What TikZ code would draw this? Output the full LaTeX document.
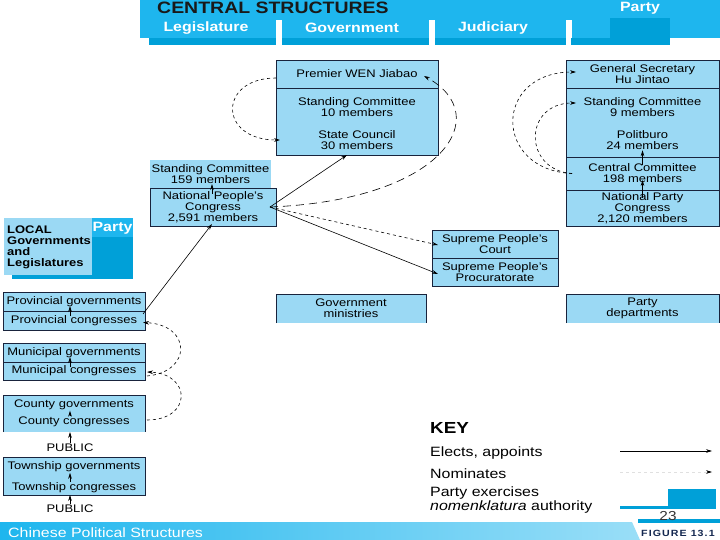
\documentclass[tikz,border=0pt]{standalone}
\usepackage{fontspec}
\setmainfont{Liberation Sans}[FakeStretch=1.18]
\usetikzlibrary{arrows.meta,calc}
\definecolor{bannerblue}{RGB}{30,182,238}
\definecolor{tabblue}{RGB}{0,160,216}
\definecolor{boxblue}{RGB}{155,217,244}
\definecolor{framecol}{RGB}{25,35,60}
\definecolor{figurenavy}{RGB}{20,40,80}

\begin{document}
\begin{tikzpicture}[x=1pt,y=-1pt,
    panel/.style={draw=framecol,line width=0.8pt,fill=boxblue,inner sep=0pt,outer sep=0pt,align=center,font=\boxfontsize},
    boxtext/.style={inner sep=0.5pt,align=center,font=\boxfontsize},
    tablabel/.style={text=white,inner sep=0pt,font=\tabfontsize\bfseries},
    keytext/.style={anchor=west,inner sep=0pt,align=left,font=\keyfontsize},
    elects/.style={draw=black,line width=0.6pt,-{Stealth[length=6pt,width=3.6pt]}},
    nominates/.style={elects,dashed}]
    \pgfmathsetmacro{\govx}{357}
    \pgfmathsetmacro{\partyx}{642.5}
    \pgfmathsetmacro{\localx}{74}
    \providecommand{\boxfontsize}{\fontsize{11}{11}\selectfont}
    \providecommand{\tabfontsize}{\fontsize{13.5}{14}\selectfont}
    \providecommand{\titlefontsize}{\fontsize{16.5}{18}\selectfont}
    \providecommand{\keyfontsize}{\fontsize{13.5}{14}\selectfont}
    \providecommand{\keytitlesize}{\fontsize{16}{18}\selectfont}
    \providecommand{\figfontsize}{\fontsize{9}{10}\selectfont\addfontfeature{LetterSpace=12}}
    \useasboundingbox (0,0) rectangle (720,540);
    % header tabs
    \fill[bannerblue] (140,0) rectangle (720,38);
    \foreach \xa/\xb in {149/276,282/429,435/566,571/670}
        \fill[tabblue] (\xa,38) rectangle (\xb,45);
    \foreach \xa in {276,429,566}
        \fill[white] (\xa,20) rectangle ++(6,18);
    \fill[tabblue] (610,18) rectangle (670,45);
    \node[anchor=west,inner sep=0pt,text=black!90,font=\titlefontsize\bfseries] (central) at (157,7.5) {CENTRAL STRUCTURES};
    \node[tablabel] (legislature) at (206,28) {Legislature};
    \node[tablabel] (government) at (352,28) {Government};
    \node[tablabel] (judiciary) at (493,28) {Judiciary};
    \node[tablabel] (partytab) at (640,8) {Party};
    % government
    \node[panel,minimum width=162,minimum height=28] (premier) at (\govx,74) {Premier WEN Jiabao};
    \node[panel,minimum width=162,minimum height=67] (govbody) at (\govx,121.5) {};
    \node[boxtext] (govsc) at (\govx,107) {Standing Committee\\10 members};
    \node[boxtext] (statecouncil) at (\govx,140) {State Council\\30 members};
    % party
    \node[panel,minimum width=153,minimum height=28] (gensec) at (\partyx,74) {General Secretary\\Hu Jintao};
    \node[panel,minimum width=153,minimum height=69] (partybody) at (\partyx,122.5) {};
    \node[boxtext] (partysc) at (\partyx,107) {Standing Committee\\9 members};
    \node[boxtext] (politburo) at (\partyx,140) {Politburo\\24 members};
    \node[panel,minimum width=153,minimum height=33] (centralcomm) at (\partyx,173.5) {Central Committee\\198 members};
    \node[panel,minimum width=153,minimum height=36] (partycongress) at (\partyx,208) {National Party\\Congress\\2,120 members};
    % legislature
    \node[panel,draw=none,minimum width=121,minimum height=28] (npcsc) at (210.5,174) {Standing Committee\\159 members};
    \node[panel,minimum width=126,minimum height=38] (npc) at (213,207) {National People's\\Congress\\2,591 members};
    % judiciary
    \node[panel,minimum width=126,minimum height=28] (court) at (495,244) {Supreme People's\\Court};
    \node[panel,minimum width=126,minimum height=28] (procuratorate) at (495,272) {Supreme People's\\Procuratorate};
    % ministries and departments, open at the bottom
    \node[panel,draw=none,minimum width=150,minimum height=29] (ministries) at (351,308.5) {Government\\ministries};
    \draw[framecol,line width=0.8pt] (ministries.south west) |- (ministries.north east) -- (ministries.south east);
    \node[panel,draw=none,minimum width=153,minimum height=29] (partydepts) at (\partyx,308.5) {Party\\departments};
    \draw[framecol,line width=0.8pt] (partydepts.south west) |- (partydepts.north east) -- (partydepts.south east);
    % local header
    \fill[boxblue] (4,218) rectangle (92,275);
    \fill[bannerblue] (92,218) rectangle (133,275);
    \fill[tabblue] (92,237) rectangle (133,279);
    \fill[tabblue] (12,275) rectangle (133,279);
    \node[anchor=west,inner sep=0pt,align=left,font=\boxfontsize\bfseries] (localhdr) at (7,247.5) {LOCAL\\Governments\\and\\Legislatures};
    \node[tablabel] (partylocal) at (112.5,228) {Party};
    % local levels
    \node[panel,minimum width=142,minimum height=19] (provgov) at (\localx,301.5) {Provincial governments};
    \node[panel,minimum width=142,minimum height=19] (provcong) at (\localx,320.5) {Provincial congresses};
    \node[panel,minimum width=142,minimum height=19] (munigov) at (\localx,352.5) {Municipal governments};
    \node[panel,minimum width=142,minimum height=18] (municong) at (\localx,371) {Municipal congresses};
    \node[panel,draw=none,minimum width=142,minimum height=37] (countybox) at (\localx,413.5) {};
    \draw[framecol,line width=0.8pt] (countybox.south west) |- (countybox.north east) -- (countybox.south east);
    \node[boxtext] (countygov) at (\localx,405) {County governments};
    \node[boxtext] (countycong) at (\localx,422) {County congresses};
    \node[panel,minimum width=142,minimum height=38] (townbox) at (\localx,476) {};
    \node[boxtext] (towngov) at (\localx,467) {Township governments};
    \node[boxtext] (towncong) at (\localx,488) {Township congresses};
    \node[boxtext] (public1) at (70,448) {PUBLIC};
    \node[boxtext] (public2) at (70,509) {PUBLIC};
    % small upward arrows
    \draw[elects] ($(provcong.north)+(-4,5)$) -- ($(provgov.south)+(-4,-5)$);
    \draw[elects] ($(municong.north)+(-4,5)$) -- ($(munigov.south)+(-4,-5)$);
    \draw[elects] ([xshift=-4pt]countycong.north) -- ([xshift=-4pt]countygov.south);
    \draw[elects] ([xshift=-4pt]towncong.north) -- ([xshift=-4pt]towngov.south);
    \draw[elects] (public1.north) -- (public1.north |- countybox.south);
    \draw[elects] (public2.north) -- (public2.north |- townbox.south);
    \draw[elects] ($(npc.north)+(-1,6)$) -- ($(npcsc.south)+(1.5,-4)$);
    \draw[elects] ($(centralcomm.north)+(0,8)$) -- (politburo.south);
    \draw[elects] ($(partycongress.north)+(0,8)$) -- ($(partycongress.north)+(0,-10)$);
    % local connectors
    \draw[elects] ($(provcong.north east)+(-2,3)$) -- ($(npc.south)+(-1,-2)$);
    \draw[nominates] ($(municong.east)+(2,5)$) .. controls (192,372) and (192,325) .. ($(provcong.east)+(-2,2)$);
    \coordinate (countyout) at (countybox.east |- countycong);
    \draw[nominates] ($(countyout)+(2,-2)$) .. controls (192,420) and (192,374) .. ($(municong.east)+(2,1)$);
    % central connectors
    \coordinate (npcout) at ($(npc.east)+(-6,0)$);
    \draw[elects] (npcout) -- ($(govbody.south)+(-10,0)$);
    \draw[nominates] (npcout) -- ($(court.west)+(6,1)$);
    \draw[elects] (npcout) -- ($(procuratorate.west)+(6,2)$);
    \draw[nominates,dash pattern=on 8pt off 5pt] (npcout) .. controls (445,200) and (495,115) .. ($(premier.east)+(-14,2)$);
    \coordinate (scin) at (govbody.west |- statecouncil);
    \draw[nominates] ($(premier.west)+(0,4)$) .. controls (218,78) and (218,140) .. ($(scin)+(4,0)$);
    \coordinate (ccin) at ($(centralcomm.west)+(6,0)$);
    \coordinate (partyscin) at (partybody.west |- partysc);
    \draw[nominates] (ccin) .. controls (493,170) and (493,72) .. ($(gensec.west)+(10,-2)$);
    \draw[nominates] (ccin) .. controls (523,170) and (523,103) .. ($(partyscin)+(10,-4)$);
    % key
    \node[anchor=west,inner sep=0pt,font=\keytitlesize\bfseries] (keytitle) at (430,428) {KEY};
    \node[keytext] (keyelects) at (430,453) {Elects, appoints};
    \node[keytext] (keynominates) at (430,474) {Nominates};
    \node[keytext] (keyparty) at (430,500) {Party exercises\\\textit{nomenklatura} authority};
    \coordinate (keyelecta) at (620,451);
    \coordinate (keyelectb) at (712,451);
    \draw[elects] (keyelecta) -- (keyelectb);
    \coordinate (keynoma) at (620,472);
    \coordinate (keynomb) at (712,472);
    \draw[nominates,draw=black!12,-{Stealth[length=6pt,width=3.6pt,color=black]}] (keynoma) -- (keynomb);
    \fill[tabblue] (620,506) rectangle (668,509);
    \fill[tabblue] (668,489) rectangle (716,509);
    % footer
    \shade[left color=bannerblue,right color=bannerblue!45] (0,522) -- (632,522) -- (640,540) -- (0,540) -- cycle;
    \node[anchor=west,inner sep=0pt,text=white,font=\keyfontsize] (footer) at (8,533) {Chinese Political Structures};
    \fill[tabblue] (638,519) rectangle (720,523);
    \node[anchor=west,inner sep=0pt,text=figurenavy,font=\figfontsize\bfseries] (figlabel) at (641,533) {FIGURE 13.1};
    \node[inner sep=0pt,text=black!80,font=\fontsize{13}{13}\selectfont] (pagenum) at (668,516) {23};
\end{tikzpicture}
\end{document}
